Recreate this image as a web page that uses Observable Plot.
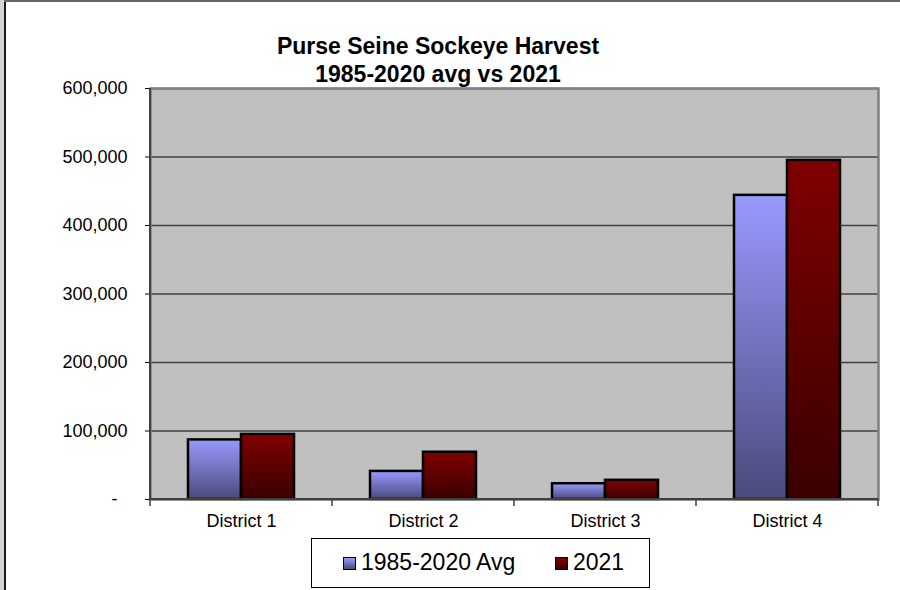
<!DOCTYPE html>
<html>
<head>
<meta charset="utf-8">
<script src="https://cdn.jsdelivr.net/npm/d3@7"></script>
<script src="https://cdn.jsdelivr.net/npm/@observablehq/plot@0.6"></script>
<style>
  html, body { margin: 0; padding: 0; background: #fff; }
  #chart { position: relative; width: 900px; height: 590px; overflow: hidden; background: #fff;
    font-family: "Liberation Sans", Arial, sans-serif; }
  #strip { position: absolute; left: 0; top: 0; width: 4px; height: 590px; background: #d4d4d4; }
  #lline { position: absolute; left: 4px; top: 0; width: 2px; height: 590px; background: #1a1a1a; }
  #tline { position: absolute; left: 4px; top: 0; width: 896px; height: 2px; background: #666; }
  #plot { position: absolute; left: 0; top: 0; }
  #title { position: absolute; left: 238px; top: 32px; width: 400px; text-align: center;
    font-weight: bold; font-size: 23px; line-height: 28px; color: #000; }
  #legend { position: absolute; left: 311px; top: 538px; width: 339px; height: 50px;
    box-sizing: border-box; border: 1.5px solid #000; background: #fff; }
  .sw { position: absolute; width: 13px; height: 13px; box-sizing: border-box; border: 1.5px solid #000; }
  .lt { position: absolute; font-size: 23px; line-height: 26px; white-space: nowrap; color: #000; }
</style>
</head>
<body>
<div id="chart">
  <div id="plot"></div>
  <div id="strip"></div>
  <div id="lline"></div>
  <div id="tline"></div>
  <div id="title"></div>
  <div id="legend"></div>
</div>
<script>
// ---- data ----
const districts = ["District 1", "District 2", "District 3", "District 4"];
const seriesNames = ["1985-2020 Avg", "2021"];
const avgValues = [87000, 41000, 23000, 444000];
const values2021 = [95000, 69000, 28000, 495000];
const yTicks = [0, 100000, 200000, 300000, 400000, 500000, 600000];
const titleLines = ["Purse Seine Sockeye Harvest", "1985-2020 avg vs 2021"];

const rowsAvg = districts.map((d, i) => ({district: d, series: seriesNames[0], value: avgValues[i]}));
const rows2021 = districts.map((d, i) => ({district: d, series: seriesNames[1], value: values2021[i]}));

const W = 900, H = 590, ML = 150, MR = 22, MT = 88, MB = 91;

// custom mark: axis lines and category boundary ticks
function axisLines(index, scales, values, dimensions) {
  const x = scales.x, y = scales.y;
  const bw = x.bandwidth ? x.bandwidth() : (dimensions.width - dimensions.marginLeft - dimensions.marginRight) / districts.length;
  const y0 = y(0);
  const g = d3.create("svg:g");
  g.append("line")
    .attr("x1", dimensions.marginLeft).attr("x2", dimensions.marginLeft)
    .attr("y1", dimensions.marginTop).attr("y2", y0 + 1)
    .attr("stroke", "#404040").attr("stroke-width", 2);
  g.append("line")
    .attr("x1", dimensions.marginLeft).attr("x2", dimensions.width - dimensions.marginRight)
    .attr("y1", y0).attr("y2", y0)
    .attr("stroke", "#404040").attr("stroke-width", 2);
  const bounds = districts.map(d => x(d)).concat([x(districts[districts.length - 1]) + bw]);
  g.selectAll("line.b").data(bounds).join("line")
    .attr("class", "b")
    .attr("x1", d => d).attr("x2", d => d)
    .attr("y1", y0).attr("y2", y0 + 7)
    .attr("stroke", "#404040").attr("stroke-width", 1.5);
  return g.node();
}

const chart = Plot.plot({
  width: W, height: H,
  marginLeft: ML, marginRight: MR, marginTop: MT, marginBottom: MB,
  style: {fontFamily: "Liberation Sans, Arial, sans-serif", fontSize: "18px", background: "transparent", color: "#000"},
  x: {domain: districts, padding: 0, tickSize: 0, tickPadding: 15, label: null},
  y: {domain: [0, 600000], ticks: yTicks, tickSize: 5, tickPadding: 18, label: null,
      tickFormat: d => d === 0 ? "-\u2007" : d3.format(",")(d)},
  marks: [
    Plot.frame({fill: "#c0c0c0"}),
    Plot.ruleY(yTicks, {stroke: "#404040", strokeWidth: 1.3}),
    Plot.barY(rowsAvg, {x: "district", y: "value", fill: "url(#gAvg)", stroke: "#000", strokeWidth: 2.5,
      insetLeft: 38, insetRight: 91}),
    Plot.barY(rows2021, {x: "district", y: "value", fill: "url(#g2021)", stroke: "#000", strokeWidth: 2.5,
      insetLeft: 91, insetRight: 38}),
    Plot.frame({stroke: "#808080", strokeWidth: 2.5}),
    axisLines
  ]
});

// gradients
const svg = d3.select(chart.tagName.toLowerCase() === "svg" ? chart : chart.querySelector("svg"));
const defs = svg.insert("defs", ":first-child");
function grad(id, top, bottom) {
  const lg = defs.append("linearGradient").attr("id", id)
    .attr("x1", 0).attr("y1", 0).attr("x2", 0).attr("y2", 1);
  lg.append("stop").attr("offset", "0%").attr("stop-color", top);
  lg.append("stop").attr("offset", "100%").attr("stop-color", bottom);
}
grad("gAvg", "#9999ff", "#4a4a7c");
grad("g2021", "#800000", "#3a0000");

document.getElementById("plot").appendChild(chart);

// title
const title = document.getElementById("title");
titleLines.forEach(t => { const d = document.createElement("div"); d.textContent = t; title.appendChild(d); });

// legend
const legend = document.getElementById("legend");
const swatchBg = ["linear-gradient(#9999ff, #4a4a7c)", "linear-gradient(#800000, #3a0000)"];
const swLeft = [31, 243];
seriesNames.forEach((name, i) => {
  const sw = document.createElement("div");
  sw.className = "sw";
  sw.style.left = swLeft[i] + "px";
  sw.style.top = "18px";
  sw.style.background = swatchBg[i];
  legend.appendChild(sw);
  const lt = document.createElement("div");
  lt.className = "lt";
  lt.style.left = (swLeft[i] + 18) + "px";
  lt.style.top = "10px";
  lt.textContent = name;
  legend.appendChild(lt);
});
</script>
</body>
</html>
